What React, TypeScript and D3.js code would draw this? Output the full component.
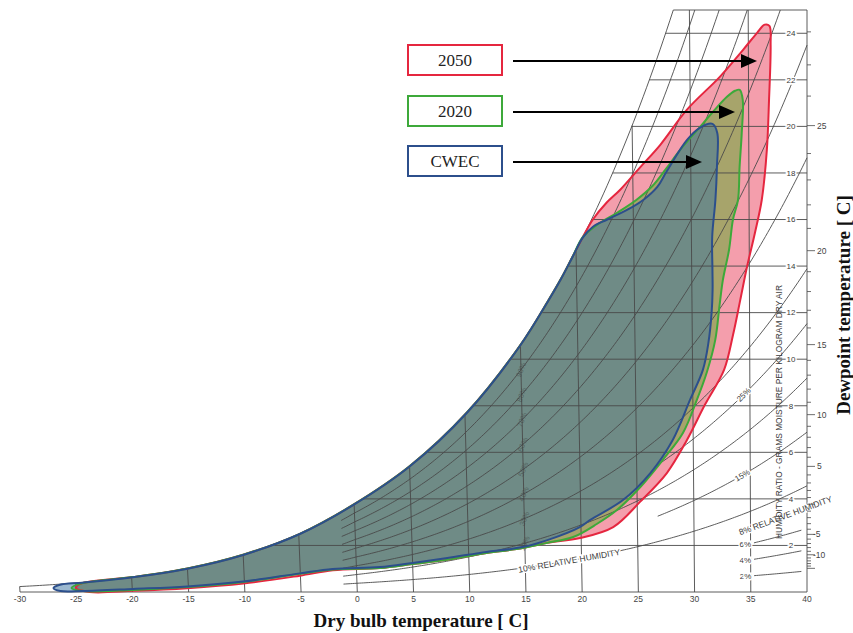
import React from 'react';
import * as d3 from 'd3';

type Pt = [number, number]; // [dry bulb °C, humidity ratio g/kg]

const WIDTH = 853;
const HEIGHT = 633;

// Axis values
const dryBulbTicks = [-30, -25, -20, -15, -10, -5, 0, 5, 10, 15, 20, 25, 30, 35, 40];
const dryBulbGrid = [-25, -20, -15, -10, -5, 0, 5, 10, 15, 20, 25, 30, 35];
const humidityTicks = [2, 4, 6, 8, 10, 12, 14, 16, 18, 20, 22, 24];
const dewpointLabels = [25, 20, 15, 10, 5, -5, -10];
const rhFull = [10, 20, 30, 40, 50, 60, 70, 80, 90];
const rhMidLabels = [20, 30, 40, 50, 60, 70, 80, 90];
const rhWarm = [15, 25];
const rhShort = [2, 4, 6];

// Climate envelopes: [dry bulb °C, humidity ratio g/kg]
const cwecPoints: Pt[] = [
  [-27.0, 0.17], [-26.4, 0.31], [-24.4, 0.40], [-19.9, 0.63], [-15.0, 1.0], [-10.0, 1.59],
  [-4.9, 2.49], [-0.1, 3.73], [5.0, 5.39], [10.2, 7.71], [15.0, 10.6], [17.5, 12.5],
  [18.6, 13.4], [19.7, 14.4], [20.6, 15.22], [21.5, 15.69], [22.7, 15.99], [24.5, 16.42],
  [25.9, 16.85], [27.1, 17.4], [27.9, 18.05], [29.7, 19.42], [30.8, 19.94], [31.9, 20.11],
  [32.3, 19.72], [32.25, 18.26], [32.1, 16.85], [31.8, 15.26], [31.8, 13.84], [31.8, 12.98],
  [31.7, 11.99], [31.4, 10.7], [30.9, 9.54], [29.75, 8.25], [28.2, 6.53], [26.2, 5.11],
  [23.75, 3.95], [20.8, 3.09], [19.9, 2.79], [17.0, 2.23], [14.8, 1.93], [11.0, 1.68],
  [8.1, 1.46], [5.0, 1.25], [2.1, 1.07], [-2.1, 0.99], [-5.05, 0.8], [-10.1, 0.45],
  [-15.1, 0.24], [-19.9, 0.13], [-24.4, 0.04], [-26.4, 0.04],
];

const y2020Points: Pt[] = [
  [-25.4, 0.17], [-24.4, 0.38], [-19.9, 0.64], [-15.0, 1.01], [-10.0, 1.6], [-4.9, 2.5],
  [-0.1, 3.74], [5.0, 5.4], [10.2, 7.72], [15.0, 10.61], [17.5, 12.51], [18.6, 13.41],
  [19.7, 14.41], [20.6, 15.24], [21.85, 15.77], [23.6, 16.29], [25.3, 16.85], [26.7, 17.45],
  [27.8, 18.13], [29.1, 18.99], [30.6, 19.85], [31.95, 20.63], [33.15, 21.27], [33.85, 21.53],
  [34.25, 21.57], [34.5, 21.14], [34.4, 19.72], [34.2, 18.26], [34.05, 16.85], [33.6, 15.99],
  [33.25, 14.7], [32.7, 13.41], [32.4, 12.33], [32.0, 10.83], [31.25, 9.45], [30.35, 8.25],
  [29.1, 6.83], [27.3, 5.67], [25.3, 4.51], [23.2, 3.52], [21.4, 2.92], [19.3, 2.36],
  [17.0, 2.11], [14.8, 1.89], [11.0, 1.63], [8.05, 1.38], [5.0, 1.2], [2.1, 1.03],
  [-2.1, 0.97], [-5.05, 0.78], [-10.1, 0.43], [-15.1, 0.21], [-19.9, 0.09], [-24.4, 0.04],
];

const y2050Points: Pt[] = [
  [-25.0, 0.17], [-24.4, 0.38], [-19.9, 0.64], [-15.0, 1.01], [-10.0, 1.6], [-4.9, 2.5],
  [-0.1, 3.74], [5.0, 5.4], [10.2, 7.72], [15.0, 10.61], [17.5, 12.51], [18.6, 13.41],
  [19.7, 14.41], [20.6, 15.24], [21.5, 16.0], [22.7, 16.72], [23.9, 17.28], [25.6, 18.22],
  [27.4, 19.21], [29.7, 20.71], [32.55, 22.13], [34.55, 23.29], [35.75, 24.02], [36.4, 24.37],
  [36.8, 24.32], [36.9, 23.51], [36.75, 21.14], [36.55, 18.99], [36.1, 16.85], [35.5, 15.43],
  [34.8, 13.97], [34.2, 12.55], [33.55, 11.04], [32.75, 9.54], [31.05, 8.04], [29.45, 6.53],
  [27.65, 5.11], [25.25, 3.87], [22.85, 2.79], [19.9, 2.32], [17.0, 2.11], [14.8, 1.89],
  [11.0, 1.63], [8.05, 1.38], [5.0, 1.2], [2.1, 1.03], [-2.1, 0.93], [-5.05, 0.7],
  [-10.1, 0.36], [-15.1, 0.16], [-19.9, 0.05], [-23.8, 0.0],
];

const series = [
  { name: '2050', points: y2050Points, stroke: '#e5263f', fill: 'rgba(230,40,70,0.45)', arrowTip: 757, boxY: 45 },
  { name: '2020', points: y2020Points, stroke: '#3da93a', fill: 'rgba(104,169,54,0.55)', arrowTip: 735, boxY: 96 },
  { name: 'CWEC', points: cwecPoints, stroke: '#2c4f8c', fill: 'rgba(55,114,161,0.5)', arrowTip: 702, boxY: 146 },
];

// Psychrometrics (sea-level pressure)
const P_ATM = 101.325;
const W_TOP = 25;
const SKEW = 1.86 / 1.006 / 1000; // oblique dry-bulb lines, 40 °C vertical

function pSat(t: number) {
  return t >= 0
    ? 0.61094 * Math.exp((17.625 * t) / (t + 243.04))
    : 0.61115 * Math.exp((22.452 * t) / (272.55 + t));
}
const wFromP = (p: number) => (622 * p) / (P_ATM - p);
const wSat = (t: number) => wFromP(pSat(t));
const wRH = (t: number, rh: number) => wFromP((rh / 100) * pSat(t));
function dewPoint(w: number) {
  let lo = -45, hi = 50;
  for (let i = 0; i < 60; i++) {
    const m = (lo + hi) / 2;
    if (wSat(m) < w) lo = m; else hi = m;
  }
  return (lo + hi) / 2;
}
function rhCurve(rh: number, t0: number, t1 = 40): Pt[] {
  const pts: Pt[] = [];
  const n = Math.round((t1 - t0) / 0.2);
  for (let i = 0; i <= n; i++) {
    const t = t0 + ((t1 - t0) * i) / n;
    const w = wRH(t, rh);
    if (w > W_TOP) {
      let lo = pts.length ? pts[pts.length - 1][0] : t0, hi = t;
      for (let k = 0; k < 40; k++) {
        const m = (lo + hi) / 2;
        if (wRH(m, rh) < W_TOP) lo = m; else hi = m;
      }
      pts.push([lo, W_TOP]);
      break;
    }
    pts.push([t, w]);
  }
  return pts;
}

export default function App() {
  const x = d3.scaleLinear().domain([-30, 40]).range([20, 807]);
  const y = d3.scaleLinear().domain([0, 25]).range([592, 10]);
  const px = (t: number, w: number) => x(t + SKEW * w * (t - 40));
  const py = (w: number) => y(w);

  const gridLine = d3.line<Pt>().x((d) => px(d[0], d[1])).y((d) => py(d[1]));
  const envelope = d3
    .line<Pt>()
    .x((d) => px(d[0], d[1]))
    .y((d) => py(d[1]))
    .curve(d3.curveCatmullRomClosed.alpha(0.5));

  const tTop = dewPoint(W_TOP);
  const satPts: Pt[] = d3.range(0, 201).map((i) => {
    const t = -30 + ((tTop + 30) * i) / 200;
    return [t, Math.min(wSat(t), W_TOP)];
  });

  const gridColor = '#4a4a4a';
  const labelColor = '#3a3a3a';
  const sans = 'Liberation Sans, Arial, sans-serif';
  const serif = 'Liberation Serif, Times New Roman, serif';

  const labelOnCurve = (rh: number, tc: number, dt: number) => {
    const a: Pt = [tc - dt, wRH(tc - dt, rh)];
    const b: Pt = [tc + dt, wRH(tc + dt, rh)];
    const ang = (Math.atan2(py(b[1]) - py(a[1]), px(b[0], b[1]) - px(a[0], a[1])) * 180) / Math.PI;
    const w = wRH(tc, rh);
    return { x: px(tc, w), y: py(w), ang };
  };

  const lbl10 = labelOnCurve(10, 18.9, 4);
  const lbl8 = labelOnCurve(8, 38.1, 2);
  const lbl25 = labelOnCurve(25, 34.45, 0.8);
  const lbl15 = labelOnCurve(15, 34.3, 0.8);

  const arrowStart = 513;
  const halo = { stroke: '#fff', strokeWidth: 3, paintOrder: 'stroke' as const };

  return (
    <svg
      width={WIDTH}
      height={HEIGHT}
      style={{ position: 'absolute', left: 0, top: 0, background: '#fff' }}
      xmlns="http://www.w3.org/2000/svg"
    >
      <rect width={WIDTH} height={HEIGHT} fill="#fff" />

      {/* envelope fills */}
      {series.map((s) => (
        <path key={s.name + '-fill'} d={envelope(s.points) || ''} fill={s.fill} stroke="none" />
      ))}

      {/* psychrometric grid */}
      <g fill="none" stroke={gridColor} strokeWidth={0.9}>
        <path d={gridLine(satPts) || ''} />
        <path d={gridLine([[-30, 0], [40, 0]]) || ''} />
        <path d={gridLine([[40, 0], [40, W_TOP]]) || ''} />
        <path d={gridLine([[tTop, W_TOP], [40, W_TOP]]) || ''} />
        <path d={gridLine([[-30, 0], [-30, wSat(-30)]]) || ''} />
        {humidityTicks.map((w) => (
          <path key={'h' + w} d={gridLine([[dewPoint(w), w], [40, w]]) || ''} />
        ))}
        {dryBulbGrid.map((t) => (
          <path key={'v' + t} d={gridLine([[t, 0], [t, Math.min(wSat(t), W_TOP)]]) || ''} />
        ))}
        {rhFull.map((rh) => (
          <path key={'rh' + rh} d={gridLine(rhCurve(rh, -1.2)) || ''} />
        ))}
        {rhWarm.map((rh) => (
          <path key={'rhw' + rh} d={gridLine(rhCurve(rh, 26.8)) || ''} />
        ))}
        {rhShort.map((rh) => (
          <path key={'rhs' + rh} d={gridLine(rhCurve(rh, 35.3, 39.5)) || ''} />
        ))}
      </g>

      {/* relative humidity labels along 15 °C */}
      <g fontFamily={sans} fontSize={7.5} fill="#333" opacity={0.45}>
        {rhMidLabels.map((rh) => {
          const w = wRH(15, rh);
          return (
            <text
              key={'rl' + rh}
              transform={`translate(${px(15, w)},${py(w)}) rotate(-68)`}
              textAnchor="middle"
              dy="0.35em"
            >
              {rh}%
            </text>
          );
        })}
      </g>

      {/* labels riding on their curves */}
      <text fontFamily={sans} fill={labelColor} style={halo} fontSize={8.5} textAnchor="middle" dy="0.35em"
        transform={`translate(${lbl10.x},${lbl10.y}) rotate(${lbl10.ang})`}>
        10% RELATIVE HUMIDITY
      </text>
      <text fontFamily={sans} fill={labelColor} style={halo} fontSize={8.5} textAnchor="middle" dy="0.35em"
        transform={`translate(${lbl8.x},${lbl8.y}) rotate(${lbl8.ang})`}>
        8% RELATIVE HUMIDITY
      </text>
      <text fontFamily={sans} fill={labelColor} style={halo} fontSize={8} textAnchor="middle" dy="0.35em"
        transform={`translate(${lbl25.x},${lbl25.y}) rotate(${lbl25.ang})`}>
        25%
      </text>
      <text fontFamily={sans} fill={labelColor} style={halo} fontSize={8} textAnchor="middle" dy="0.35em"
        transform={`translate(${lbl15.x},${lbl15.y}) rotate(${lbl15.ang})`}>
        15%
      </text>
      {rhShort.map((rh) => {
        const w = wRH(34.8, rh);
        return (
          <text key={'sl' + rh} fontFamily={sans} fill={labelColor} style={halo} fontSize={8}
            textAnchor="middle" dy="0.35em" x={px(34.8, w) - 3} y={py(w)}>
            {rh}%
          </text>
        );
      })}
      {humidityTicks.map((w) => (
        <text key={'hl' + w} fontFamily={sans} fill={labelColor} style={halo} fontSize={8}
          textAnchor="middle" dy="0.35em" x={791} y={py(w)}>
          {w}
        </text>
      ))}

      <text
        fontFamily={sans}
        fontSize={8.4}
        fill={labelColor}
        textAnchor="middle"
        dy="0.35em"
        transform={`translate(779,412) rotate(-90)`}
      >
        HUMIDITY RATIO - GRAMS MOISTURE PER KILOGRAM DRY AIR
      </text>

      {/* dew point scale */}
      <g stroke={gridColor} strokeWidth={0.8}>
        {d3.range(-15, 29).map((td) => {
          const yy = py(wSat(td));
          const major = td % 5 === 0;
          return <line key={'dt' + td} x1={807} x2={807 + (major ? 8 : 4)} y1={yy} y2={yy} />;
        })}
      </g>
      <g fontFamily={sans} fontSize={8.5} fill="#444">
        {dewpointLabels.map((td) => (
          <text key={'dl' + td} x={td < 0 ? 813 : 817} y={py(wSat(td))} dy="0.35em">
            {td}
          </text>
        ))}
      </g>

      {/* dry bulb tick labels */}
      <g fontFamily={sans} fontSize={8.5} fill="#444" textAnchor="middle">
        {dryBulbTicks.map((t) => (
          <text key={'bt' + t} x={x(t)} y={602}>
            {t}
          </text>
        ))}
      </g>

      {/* envelope outlines */}
      {series.map((s) => (
        <path key={s.name + '-line'} d={envelope(s.points) || ''} fill="none" stroke={s.stroke} strokeWidth={2} />
      ))}

      {/* legend boxes and arrows */}
      {series.map((s) => {
        const cy = s.boxY + 15;
        return (
          <g key={s.name + '-legend'}>
            <rect x={408} y={s.boxY} width={94} height={30} fill="#fff" stroke={s.stroke} strokeWidth={2} />
            <text x={455} y={cy} dy="0.36em" textAnchor="middle" fontFamily={serif} fontSize={17} fill="#222">
              {s.name}
            </text>
            <line x1={arrowStart} x2={s.arrowTip - 12} y1={cy + 1} y2={cy + 1} stroke="#000" strokeWidth={2} />
            <path
              d={`M${s.arrowTip},${cy + 1} L${s.arrowTip - 16},${cy - 6} L${s.arrowTip - 16},${cy + 8} Z`}
              fill="#000"
            />
          </g>
        );
      })}

      {/* axis titles */}
      <text x={421} y={627} textAnchor="middle" fontFamily={serif} fontWeight="bold" fontSize={19} fill="#111">
        Dry bulb temperature [ C]
      </text>
      <text
        transform="translate(843,305) rotate(-90)"
        textAnchor="middle"
        dy="0.35em"
        fontFamily={serif}
        fontWeight="bold"
        fontSize={19}
        fill="#111"
      >
        Dewpoint temperature [ C]
      </text>
    </svg>
  );
}
